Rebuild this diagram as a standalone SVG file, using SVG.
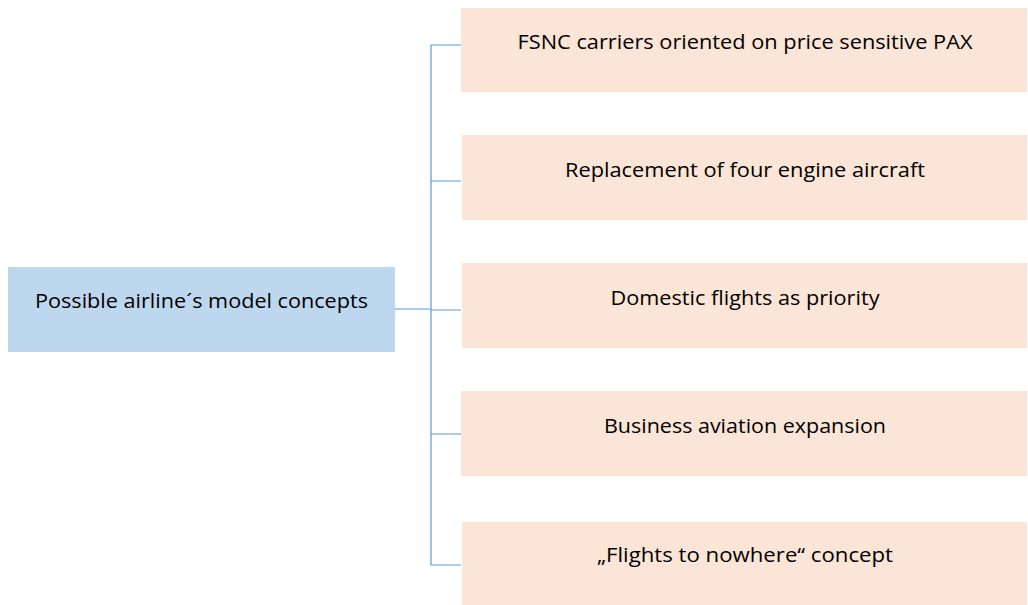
<svg xmlns="http://www.w3.org/2000/svg" width="1028" height="605" viewBox="0 0 1028 605">
  <style>
    .root { fill: #BDD7EE; }
    .item { fill: #FBE5D6; }
    .lbl { font-family: "Open Sans", "Liberation Sans", sans-serif; font-size: 20.5px; fill: #000000; text-anchor: middle; }
    .wire { fill: none; stroke: #5B9BD5; stroke-width: 1.2; }
  </style>
  <rect width="1028" height="605" fill="#FFFFFF"/>

  <g id="connectors">
    <path class="wire" d="M395 309 H431"/>
    <path class="wire" d="M431 45 V565"/>
    <path class="wire" d="M431 45 H461 M431 181 H461 M431 310 H461 M431 434 H461 M431 565 H461"/>
  </g>

  <g id="root">
    <rect class="root" x="8" y="267" width="387" height="85"/>
    <text class="lbl" x="201.5" y="308" textLength="333" lengthAdjust="spacingAndGlyphs">Possible airline´s model concepts</text>
  </g>

  <g id="concept-fsnc">
    <rect class="item" x="461" y="8" width="566" height="84"/>
    <text class="lbl" x="745" y="49" textLength="455" lengthAdjust="spacingAndGlyphs">FSNC carriers oriented on price sensitive PAX</text>
  </g>

  <g id="concept-replacement">
    <rect class="item" x="462" y="135" width="565" height="85"/>
    <text class="lbl" x="745" y="177" textLength="360" lengthAdjust="spacingAndGlyphs">Replacement of four engine aircraft</text>
  </g>

  <g id="concept-domestic">
    <rect class="item" x="462" y="263" width="565" height="85"/>
    <text class="lbl" x="745" y="305" textLength="269" lengthAdjust="spacingAndGlyphs">Domestic flights as priority</text>
  </g>

  <g id="concept-business">
    <rect class="item" x="461" y="391" width="566" height="85"/>
    <text class="lbl" x="745" y="433" textLength="282" lengthAdjust="spacingAndGlyphs">Business aviation expansion</text>
  </g>

  <g id="concept-nowhere">
    <rect class="item" x="462" y="522" width="565" height="83"/>
    <text class="lbl" x="745" y="562" textLength="296" lengthAdjust="spacingAndGlyphs">„Flights to nowhere“ concept</text>
  </g>
</svg>
